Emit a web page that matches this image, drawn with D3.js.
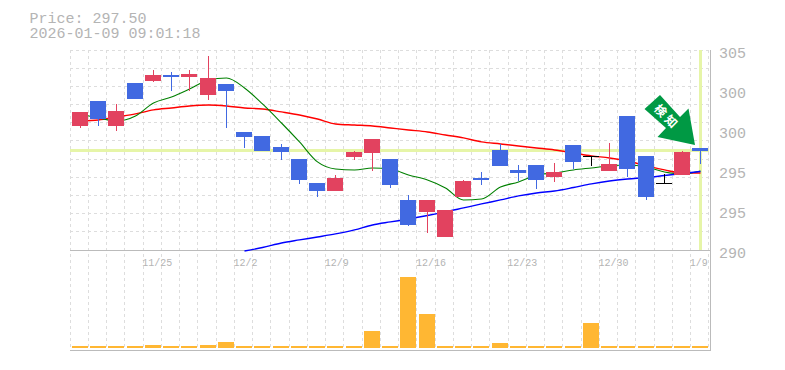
<!DOCTYPE html>
<html>
<head>
<meta charset="utf-8">
<script src="https://cdn.jsdelivr.net/npm/d3@7"></script>
<style>
  body { margin: 0; background: #fff; }
  text { font-family: "Liberation Mono", monospace; fill: #b4b4b4; }
</style>
</head>
<body>
<svg id="chart" width="785" height="370"></svg>
<script>
// title lines
const priceText = "Price: 297.50";
const timeText = "2026-01-09 09:01:18";
const lastPrice = 297.5;

const dates = ["11/18","11/19","11/20","11/21","11/25","11/26","11/27","11/28","12/1","12/2",
  "12/3","12/4","12/5","12/8","12/9","12/10","12/11","12/12","12/15","12/16",
  "12/17","12/18","12/19","12/22","12/23","12/24","12/25","12/26","12/29","12/30",
  "1/5","1/6","1/7","1/8","1/9"];
const dateTicks = ["11/25","12/2","12/9","12/16","12/23","12/30","1/9"];

// the y labels on the chart are rounded to 5s
const priceTicks = [305, 302, 299, 296, 293, 290];
const priceTickLabels = ["305","300","300","295","295","290"];

const opens = [299.38,301.25,299.38,302.60,302.75,303.20,303.05,301.70,302.53,298.93,
  298.63,297.80,296.90,295.10,294.50,297.05,297.35,296.90,293.83,292.93,
  291.05,294.05,295.48,297.58,296.08,296.45,295.55,297.95,297.13,296.00,
  300.13,297.13,295.10,295.70,297.73];
const closes = [300.43,299.90,300.50,301.40,303.20,303.05,303.28,302.98,302.00,298.55,
  297.50,297.43,295.33,294.50,295.48,297.43,298.40,294.95,291.95,293.83,
  293.08,295.25,295.33,296.38,295.85,295.33,295.93,296.68,297.13,296.53,
  296.15,294.05,295.10,297.43,297.50];
const highs = [300.43,301.25,301.03,302.60,303.58,303.43,303.58,304.63,302.53,298.93,
  298.63,298.03,296.90,295.10,295.70,297.50,298.40,296.90,294.20,293.83,
  293.08,295.33,295.93,298.03,296.45,296.45,296.60,297.95,297.13,298.10,
  300.13,297.13,295.78,297.50,297.73];
const lows = [299.23,299.38,299.00,301.40,302.68,302.00,302.03,301.33,299.23,297.73,
  297.50,296.83,295.03,294.05,294.50,296.83,296.00,294.73,291.88,291.35,
  291.05,294.05,294.95,296.38,295.25,294.65,295.18,296.15,296.38,296.00,
  295.55,293.83,295.10,295.70,296.53];

const volumes = [2,2,2,2,3,2,2,3,6,2,2,2,2,2,2,2,17,2,71,34,2,2,2,5,2,2,2,2,25,2,2,2,2,2,2];

// moving averages
const maGreen = [300.28,299.98,299.75,300.13,301.10,301.55,302.15,302.83,302.98,302.23,
  301.03,299.60,298.18,296.68,296.15,296.08,296.23,296.15,295.70,295.33,
  294.73,293.83,293.90,294.80,295.18,295.70,295.85,296.08,296.23,296.38,
  296.45,296.30,295.93,295.78,296.00];
const maRed = [299.75,299.83,300.05,300.28,300.58,300.73,300.88,300.95,300.88,300.73,
  300.65,300.43,300.20,299.90,299.53,299.45,299.38,299.23,299.08,298.93,
  298.70,298.48,298.18,298.03,297.88,297.73,297.58,297.35,297.13,296.98,
  296.75,296.38,296.08,295.85,295.85];
const maBlue = [null,null,null,null,null,null,null,null,null,290.00,
  290.26,290.60,290.83,291.05,291.28,291.58,291.95,292.18,292.40,292.66,
  292.93,293.23,293.53,293.83,294.13,294.35,294.50,294.76,295.03,295.25,
  295.40,295.51,295.66,295.81,295.96];

const upColor = "#e2425f";
const downColor = "#4169e1";
const gridColor = "#ddd";
const frameColor = "#bbb";
const markColor = "#e6f5a8";

let svg = d3.select("#chart");

// scales
let x = d3.scaleBand().domain(dates).range([70.8, 709.55]);
let y = d3.scaleLinear().domain([290, 305]).range([251, 51]);
let vol = d3.scaleLinear().domain([0, d3.max(volumes)]).range([348, 277]);
let cx = d => Math.round(x(d) + 1) + 8.5;

// title
svg.append("text").attr("x", 29.5).attr("y", 23).attr("font-size", 15).text(priceText);
svg.append("text").attr("x", 29.5).attr("y", 38).attr("font-size", 15).text(timeText);

// grid
let gridY = d3.range(12).map(i => 290 + i * 15 / 11);
svg.append("g").selectAll("line").data(gridY).join("line")
  .attr("x1", 70).attr("x2", 710)
  .attr("y1", d => Math.floor(y(d)) - 0.5).attr("y2", d => Math.floor(y(d)) - 0.5)
  .attr("stroke", gridColor).attr("stroke-dasharray", "3,3");
svg.append("g").selectAll("line").data(dates.concat("end")).join("line")
  .attr("x1", (d, i) => Math.round(70.8 + x.step() * i - 1.3) + 0.5)
  .attr("x2", (d, i) => Math.round(70.8 + x.step() * i - 1.3) + 0.5)
  .attr("y1", 50).attr("y2", 350)
  .attr("stroke", gridColor).attr("stroke-dasharray", "3,3");

// last price cross hair
svg.append("line").attr("x1", 70).attr("x2", 709)
  .attr("y1", y(lastPrice) - 0.5).attr("y2", y(lastPrice) - 0.5)
  .attr("stroke", markColor).attr("stroke-width", 3);
svg.append("line").attr("x1", cx("1/9")).attr("x2", cx("1/9"))
  .attr("y1", 50).attr("y2", 250)
  .attr("stroke", markColor).attr("stroke-width", 3);

// frame
svg.append("path")
  .attr("d", "M70,250.5H710.5M70,350.5H710.5M710.5,50V351")
  .attr("fill", "none").attr("stroke", frameColor);

// axes
let yAxis = d3.axisRight(y).tickValues(priceTicks)
  .tickFormat((d, i) => priceTickLabels[i]).tickSize(0);
let yG = svg.append("g").attr("transform", "translate(719,0)").call(yAxis);
yG.select(".domain").remove();
yG.selectAll("text").attr("x", 0).attr("dy", "6.5px")
  .attr("font-size", 15).attr("font-family", "Liberation Mono");

let xAxis = d3.axisBottom(x).tickValues(dateTicks).tickSize(0);
let xG = svg.append("g").attr("transform", "translate(0,250)").call(xAxis);
xG.select(".domain").remove();
xG.selectAll("text").attr("text-anchor", "start")
  .attr("x", -x.bandwidth() / 2 - 1.5).attr("y", 16).attr("dy", 0)
  .attr("font-size", 10).attr("font-family", "Liberation Mono");

// moving average lines
let maLine = vals => d3.line()
  .defined(d => d !== null)
  .curve(d3.curveMonotoneX)
  .x((d, i) => cx(dates[i]))
  .y(d => y(d))(vals);
[[maRed, "red", 1.4], [maGreen, "green", 1.1], [maBlue, "blue", 1.4]].forEach(m => {
  svg.append("path").attr("d", maLine(m[0]))
    .attr("fill", "none").attr("stroke", m[1]).attr("stroke-width", m[2]);
});

// candles
let candleColor = i => closes[i] > opens[i] ? upColor : closes[i] < opens[i] ? downColor : "#000";
let candles = svg.append("g").attr("shape-rendering", "crispEdges");
candles.selectAll("line").data(dates).join("line")
  .attr("x1", d => cx(d)).attr("x2", d => cx(d))
  .attr("y1", (d, i) => y(highs[i])).attr("y2", (d, i) => y(lows[i]))
  .attr("stroke", (d, i) => candleColor(i));
candles.selectAll("rect").data(dates).join("rect")
  .attr("x", d => Math.round(x(d) + 1))
  .attr("width", 16)
  .attr("y", (d, i) => Math.round(y(Math.max(opens[i], closes[i]))))
  .attr("height", (d, i) => Math.max(1, Math.round(y(Math.min(opens[i], closes[i])) - y(Math.max(opens[i], closes[i])))))
  .attr("fill", (d, i) => candleColor(i));

// volume
svg.append("g").attr("shape-rendering", "crispEdges")
  .selectAll("rect").data(dates).join("rect")
  .attr("x", d => Math.round(x(d) + 1))
  .attr("width", 16)
  .attr("y", (d, i) => vol(volumes[i]))
  .attr("height", (d, i) => 348 - vol(volumes[i]))
  .attr("fill", "#ffb733");

// signal arrow
svg.append("polygon")
  .attr("points", "660,95 680,117 688.5,108.5 695,145 657.5,137 666,128 644.5,109")
  .attr("fill", "#009944");
svg.append("text")
  .attr("transform", "translate(667,117) rotate(45)")
  .attr("text-anchor", "middle").attr("dy", "0.38em")
  .attr("font-size", 12).attr("font-weight", "bold").attr("letter-spacing", 3)
  .style("font-family", "Noto Sans CJK JP").style("fill", "#fff")
  .text("検知");
</script>
</body>
</html>
